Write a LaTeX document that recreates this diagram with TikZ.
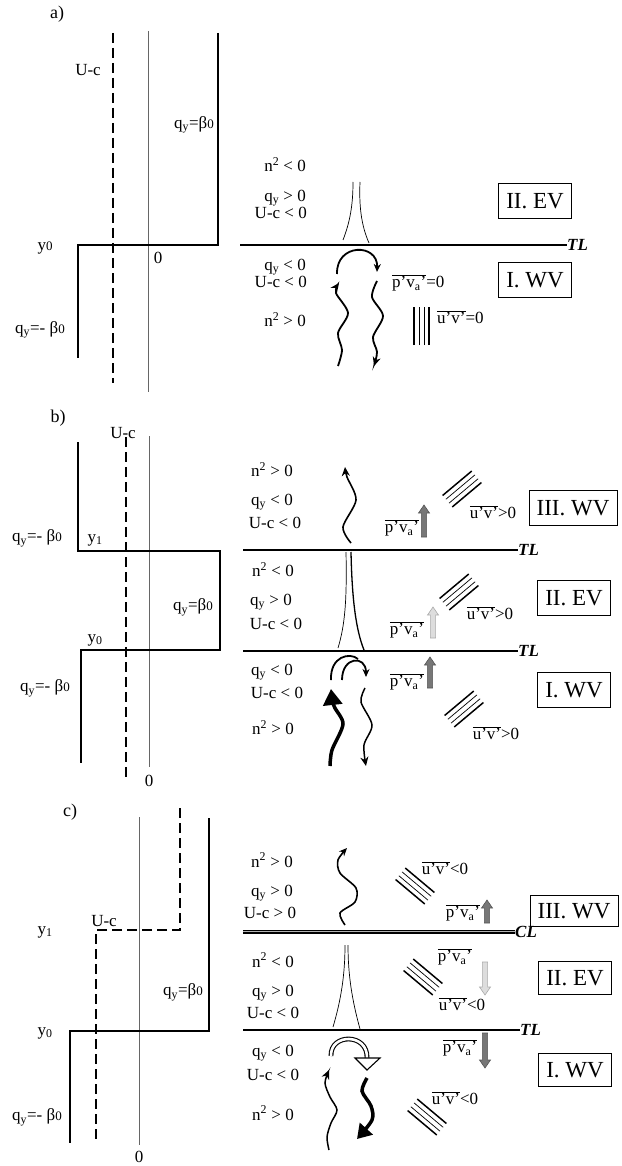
\documentclass[tikz,border=0pt]{standalone}
\usepackage{fontspec}
\setmainfont{Liberation Serif}
\usetikzlibrary{arrows.meta}
\newcommand\bz{β{\fontsize{13}{13}\selectfont 0}}
\newcommand\qy{q\textsubscript{y}}
\newcommand\nsq{n\textsuperscript{2}}
\newcommand\pva{$\overline{\mbox{p’v\textsubscript{a}’}}$}
\newcommand\uv{$\overline{\mbox{u’v’}}$}
\newcommand\hatchset[3]{%
  \begin{scope}[shift={(#1,#2)},rotate=#3]
    \draw[line width=1.5pt] (-19,-7.5) -- (19,-7.5);
    \draw[line width=0.7pt] (-19,-2.5) -- (19,-2.5);
    \draw[line width=0.7pt] (-19,2.5) -- (19,2.5);
    \draw[line width=1.5pt] (-19,7.5) -- (19,7.5);
  \end{scope}}
\newcommand\blkup[4]{\filldraw[#4] (#1-2.6,#2) -- (#1-2.6,#3+8) -- (#1-5.5,#3+8) -- (#1,#3) -- (#1+5.5,#3+8) -- (#1+2.6,#3+8) -- (#1+2.6,#2) -- cycle;}
\newcommand\blkdn[4]{\filldraw[#4] (#1-2.6,#2) -- (#1-2.6,#3-8) -- (#1-5.5,#3-8) -- (#1,#3) -- (#1+5.5,#3-8) -- (#1+2.6,#3-8) -- (#1+2.6,#2) -- cycle;}
\definecolor{darkarr}{HTML}{777777}
\definecolor{darkarrb}{HTML}{555555}
\definecolor{lightarr}{HTML}{DDDDDD}
\definecolor{lightarrb}{HTML}{AAAAAA}
\begin{document}
\begin{tikzpicture}[x=1pt,y=-1pt,
  lab/.style={font=\fontsize{17}{19}\selectfont, inner sep=0pt},
  plab/.style={font=\fontsize{18}{20}\selectfont, inner sep=0pt},
  boxlab/.style={draw, line width=0.8pt, font=\fontsize{23}{25}\selectfont, minimum height=35pt, inner sep=0pt},
  tllab/.style={font=\fontsize{17}{19}\selectfont\bfseries\itshape, inner sep=0pt, anchor=west},
  stepline/.style={line width=2.4pt, line join=miter},
  ucline/.style={line width=2.6pt, dash pattern=on 10pt off 5pt},
  axisline/.style={line width=0.7pt, black!60},
  tline/.style={line width=2pt},
  cuspline/.style={line width=0.7pt},
  wave/.style={line width=1.8pt, -{Stealth[length=9pt,width=8pt]}},
  thinwave/.style={line width=1.5pt, -{Stealth[length=9pt,width=8pt]}},
  bigwave/.style={line width=3.5pt, -{Triangle[length=16pt,width=19pt]}},
  darkblk/.style={fill=darkarr, draw=darkarrb, line width=0.6pt},
  lightblk/.style={fill=lightarr, draw=lightarrb, line width=0.6pt}]
\useasboundingbox (0,0) rectangle (621,1166);

% ================= Panel a =================
\node[plab] (pa) at (57,14) {a)};
\draw[axisline] (148,31) -- (148,392);
\draw[ucline] (113,33) -- (113,383);
\draw[stepline] (218,33) -- (218,245) -- (78,245) -- (78,358);
\node[lab] (auc) at (88,70) {U-c};
\node[lab,anchor=east] (aqb) at (214,125) {\qy=\bz};
\node[lab] (ay0) at (45,248) {y{\fontsize{13}{13}\selectfont 0}};
\node[lab] (azero) at (158,258) {0};
\node[lab] (aqmb) at (40,330) {\qy=- \bz};

\node[lab,anchor=east] (an1) at (306,165) {\nsq{} < 0};
\node[lab,anchor=east] (aq1) at (306,198) {\qy{} > 0};
\node[lab,anchor=east] (au1) at (307,213) {U-c < 0};
\node[lab,anchor=east] (aq2) at (306,267) {\qy{} < 0};
\node[lab,anchor=east] (au2) at (307,282) {U-c < 0};
\node[lab,anchor=east] (an2) at (306,320) {\nsq{} > 0};

\draw[tline] (240,245) -- (567,245);
\node[tllab] (atl) at (567,245) {TL};
\node[boxlab, minimum width=73pt] (aev) at (535,201) {II. EV};
\node[boxlab, minimum width=73pt] (awv) at (535,280) {I. WV};

\draw[cuspline] (343,240) .. controls (350,222) and (353,205) .. (353,182);
\draw[cuspline] (369,243) .. controls (361,225) and (359,205) .. (360,182);

\draw[line width=1.8pt, -{Stealth[length=8pt,width=7pt]}] (337,274) .. controls (336,243) and (378,243) .. (377,272);
\draw[wave] plot[smooth] coordinates {(338,366) (342,350) (338,333) (348,313) (336,293) (339,283)};
\draw[wave] plot[smooth] coordinates {(377,281) (372,297) (383,316) (373,337) (377,352) (374,366)};

\node[lab,anchor=west] (apv) at (392,283) {\pva=0};
\hatchset{421.5}{326}{90}
\node[lab,anchor=west] (auv) at (437,317) {\uv=0};

% ================= Panel b =================
\node[plab] (pb) at (58,418) {b)};
\draw[axisline] (149,436) -- (149,767);
\draw[ucline] (126,437) -- (126,777);
\draw[stepline] (78,442) -- (78,551) -- (220,551) -- (220,650) -- (81,650) -- (81,763);
\node[lab] (buc) at (123,433) {U-c};
\node[lab] (bzero) at (149,781) {0};
\node[lab] (bqmb1) at (37,538) {\qy=- \bz};
\node[lab] (by1) at (95,540) {y\textsubscript{1}};
\node[lab,anchor=east] (bqb) at (213,607) {\qy=\bz};
\node[lab] (by0) at (95,640) {y\textsubscript{0}};
\node[lab] (bqmb2) at (45,688) {\qy=- \bz};

\node[lab] (bn3) at (272,470) {\nsq{} > 0};
\node[lab] (bq3) at (272,502) {\qy{} < 0};
\node[lab] (bu3) at (275,523) {U-c < 0};
\node[lab] (bn2) at (273,570) {\nsq{} < 0};
\node[lab] (bq2) at (271,602) {\qy{} > 0};
\node[lab] (bu2) at (276,624) {U-c < 0};
\node[lab] (bq1) at (272,672) {\qy{} < 0};
\node[lab] (bu1) at (277,693) {U-c < 0};
\node[lab] (bn1) at (273,728) {\nsq{} > 0};

\draw[tline] (243,550) -- (518,550);
\node[tllab] (btl1) at (518,550) {TL};
\draw[tline] (243,651) -- (518,651);
\node[tllab] (btl2) at (518,651) {TL};

\node[boxlab, minimum width=88pt] (bwv3) at (573,508) {III. WV};
\node[boxlab, minimum width=73pt] (bev) at (574,598) {II. EV};
\node[boxlab, minimum width=73pt] (bwv1) at (574,690) {I. WV};

\draw[line width=1.6pt, -{Stealth[length=9pt,width=8pt]}] plot[smooth] coordinates {(351,543) (343,527) (356,500) (347,477) (345,467)};
\hatchset{462}{489}{40}
\node[lab] (buv3) at (493,512) {\uv>0};
\node[lab] (bpv3) at (402,528) {\pva};
\blkup{424}{537}{505}{darkblk}

\draw[cuspline] (346,552) .. controls (347,600) and (345,625) .. (338,648);
\draw[line width=1.3pt] (351,552) .. controls (352,600) and (356,630) .. (364,650);
\hatchset{459}{592}{40}
\node[lab] (buv2) at (490,613) {\uv>0};
\node[lab] (bpv2) at (407,630) {\pva};
\blkup{433}{638}{607}{lightblk}

\draw[line width=1.8pt] (331,680) .. controls (330,656) and (350,652) .. (358,659);
\draw[line width=1.8pt, -{Stealth[length=8pt,width=7pt]}] (342,680) .. controls (342,656) and (366,655) .. (366,677);
\draw[bigwave] plot[smooth] coordinates {(330,766) (332,750) (343,724) (334,706) (331,689)};
\draw[thinwave] plot[smooth] coordinates {(365,688) (361,702) (372,725) (364,745) (366,766)};
\node[lab] (bpv1) at (407,682) {\pva};
\blkup{430}{688}{657}{darkblk}
\hatchset{464}{709}{40}
\node[lab] (buv1) at (496,733) {\uv>0};

% ================= Panel c =================
\node[plab] (pc) at (70,812) {c)};
\draw[axisline] (139,817) -- (139,1145);
\draw[ucline] (180,808) -- (180,930) -- (96,930) -- (96,1140);
\draw[stepline] (209,818) -- (209,1031) -- (70,1031) -- (70,1143);
\node[lab] (cuc) at (104,921) {U-c};
\node[lab] (cy1) at (45,932) {y\textsubscript{1}};
\node[lab,anchor=east] (cqb) at (203,992) {\qy=\bz};
\node[lab] (cy0) at (45,1033) {y\textsubscript{0}};
\node[lab] (cqmb) at (37,1117) {\qy=- \bz};
\node[lab] (czero) at (139,1157) {0};

\node[lab] (cn3) at (272,860) {\nsq{} > 0};
\node[lab] (cq3) at (272,893) {\qy{} > 0};
\node[lab] (cu3) at (270,913) {U-c > 0};
\node[lab] (cn2) at (273,960) {\nsq{} < 0};
\node[lab] (cq2) at (273,993) {\qy{} > 0};
\node[lab] (cu2) at (273,1013) {U-c < 0};
\node[lab] (cq1) at (273,1053) {\qy{} < 0};
\node[lab] (cu1) at (273,1075) {U-c < 0};
\node[lab] (cn1) at (273,1113) {\nsq{} > 0};

\draw[line width=4.4pt] (243,932) -- (515,932);
\draw[line width=2.8pt, black!30] (243,932) -- (515,932);
\draw[line width=1pt] (243,932) -- (515,932);
\node[tllab] (ccl) at (515,932) {CL};
\draw[tline] (243,1030) -- (520,1030);
\node[tllab] (ctl) at (520,1030) {TL};

\node[boxlab, minimum width=88pt, minimum height=31pt] (cwv3) at (574,911) {III. WV};
\node[boxlab, minimum width=73pt, minimum height=33pt] (cev) at (575,978) {II. EV};
\node[boxlab, minimum width=73pt, minimum height=33pt] (cwv1) at (575,1070) {I. WV};

\draw[line width=1.6pt, -{Stealth[length=8pt,width=7pt]}] plot[smooth] coordinates {(345,925) (340,913) (355,902) (356,888) (340,873) (338,860) (347,848)};
\hatchset{415}{886}{-40}
\node[lab] (cuv3) at (445,868) {\uv<0};
\node[lab] (cpv3) at (463,913) {\pva};
\blkup{487}{923}{900}{darkblk}

\draw[cuspline] (333,1027) .. controls (341,1000) and (345,975) .. (345,945);
\draw[cuspline] (360,1029) .. controls (352,1000) and (348,975) .. (348,945);
\hatchset{423}{977}{-40}
\node[lab] (cpv2) at (455,957) {\pva};
\blkdn{485}{962}{995}{lightblk}
\node[lab] (cuv2) at (462,1004) {\uv<0};

\node[lab] (cpv1) at (460,1048) {\pva};
\blkdn{485}{1033}{1068}{darkblk}
\draw[line width=1.1pt, double=white, double distance=2.6pt] (331,1056) .. controls (330,1033) and (368,1033) .. (367,1058);
\filldraw[fill=white, line width=1.1pt] (355,1058) -- (380,1058) -- (367,1070) -- cycle;
\draw[thinwave] plot[smooth] coordinates {(329,1150) (327,1137) (331,1123) (337,1110) (330,1097) (325,1083) (329,1070)};
\draw[line width=3.5pt, -{Triangle[length=14pt,width=17pt]}] plot[smooth] coordinates {(367,1078) (362,1091) (371,1106) (372,1120) (357,1139)};
\hatchset{427}{1117}{-40}
\node[lab] (cuv1) at (455,1098) {\uv<0};
\end{tikzpicture}
\end{document}
